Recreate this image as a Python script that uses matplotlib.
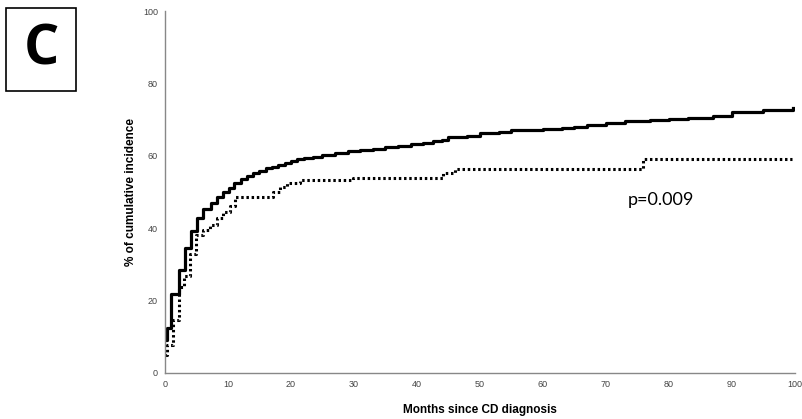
import matplotlib.pyplot as plt
from matplotlib.patches import Rectangle

# step points (months, % cumulative incidence)
solid_t = [0, 0.3, 1.0, 2.2, 3.2, 4.1, 5.1, 6.0, 7.3, 8.3, 9.2, 10.1, 11.0, 12.0, 13.0,
           14.0, 15.0, 16.0, 17.0, 18.0, 19.0, 20.0, 21.0, 22.0, 23.5, 25, 27, 29, 31,
           33, 35, 37, 39, 41, 42.5, 44, 45, 48, 50, 53, 55, 58, 60, 63, 65, 67, 70,
           73, 77, 80, 83, 87, 90, 95, 99.7]
solid_v = [9.0, 12.5, 21.8, 28.4, 34.5, 39.2, 42.8, 45.3, 47.0, 48.7, 50.0, 51.2, 52.5,
           53.5, 54.5, 55.2, 55.8, 56.5, 57.0, 57.5, 58.0, 58.5, 59.0, 59.5, 59.8, 60.3,
           60.8, 61.2, 61.6, 62.0, 62.4, 62.8, 63.2, 63.6, 64.0, 64.5, 65.1, 65.6, 66.2,
           66.5, 67.0, 67.2, 67.4, 67.7, 68.0, 68.5, 69.1, 69.5, 69.9, 70.2, 70.5, 71.1,
           72.0, 72.7, 73.1]

dotted_t = [0, 0.3, 1.2, 2.2, 3.0, 4.0, 5.0, 6.0, 7.1, 8.2, 9.2, 10.3, 11.1, 17.2,
            18.3, 19.3, 21.4, 29.9, 44.1, 46.0, 75.9, 99.5]
dotted_v = [5.0, 7.7, 14.6, 23.8, 26.8, 33.0, 38.0, 39.5, 41.0, 42.7, 44.5, 46.0, 48.7,
            50.0, 51.5, 52.6, 53.3, 54.0, 55.3, 56.4, 59.1, 59.1]

x_ticks = [0, 10, 20, 30, 40, 50, 60, 70, 80, 90, 100]
y_ticks = [0, 20, 40, 60, 80, 100]

fig = plt.figure(figsize=(8.02, 4.19), dpi=100)
ax = fig.add_axes([0.2057, 0.1098, 0.7855, 0.8639])

ax.step(solid_t, solid_v, where='post', color='black', lw=2.3)
ax.step(dotted_t, dotted_v, where='post', color='black', lw=2.2,
        linestyle=(0, (0.8, 0.9)))

ax.set_xlim(0, 100)
ax.set_ylim(0, 100)
ax.set_xticks(x_ticks)
ax.set_yticks(y_ticks)
ax.tick_params(length=0, labelsize=6.5, colors='#444444', pad=5)
for s in ['top', 'right']:
    ax.spines[s].set_visible(False)
for s in ['left', 'bottom']:
    ax.spines[s].set_color('#888888')
    ax.spines[s].set_linewidth(1)

ax.set_xlabel('Months since CD diagnosis', fontsize=8.5, fontweight='bold',
              family='Liberation Sans', labelpad=11)
ax.set_ylabel('% of cumulative incidence', fontsize=8.5, fontweight='bold',
              family='Liberation Sans', labelpad=4)
for lab in ax.get_xticklabels() + ax.get_yticklabels():
    lab.set_family('Liberation Sans')

ax.text(73.5, 47.8, 'p=0.009', fontsize=13, family='Lato', va='center', ha='left')

# panel letter box
fig.patches.append(Rectangle((6 / 802, 1 - 91 / 419), 70 / 802, 83 / 419,
                             transform=fig.transFigure, fill=False,
                             edgecolor='black', lw=1.2))
fig.text(41 / 802, 1 - 50 / 419, 'C', fontsize=40, fontweight='bold',
         family='Open Sans', ha='center', va='center')

fig.savefig('out.png', dpi=100)
